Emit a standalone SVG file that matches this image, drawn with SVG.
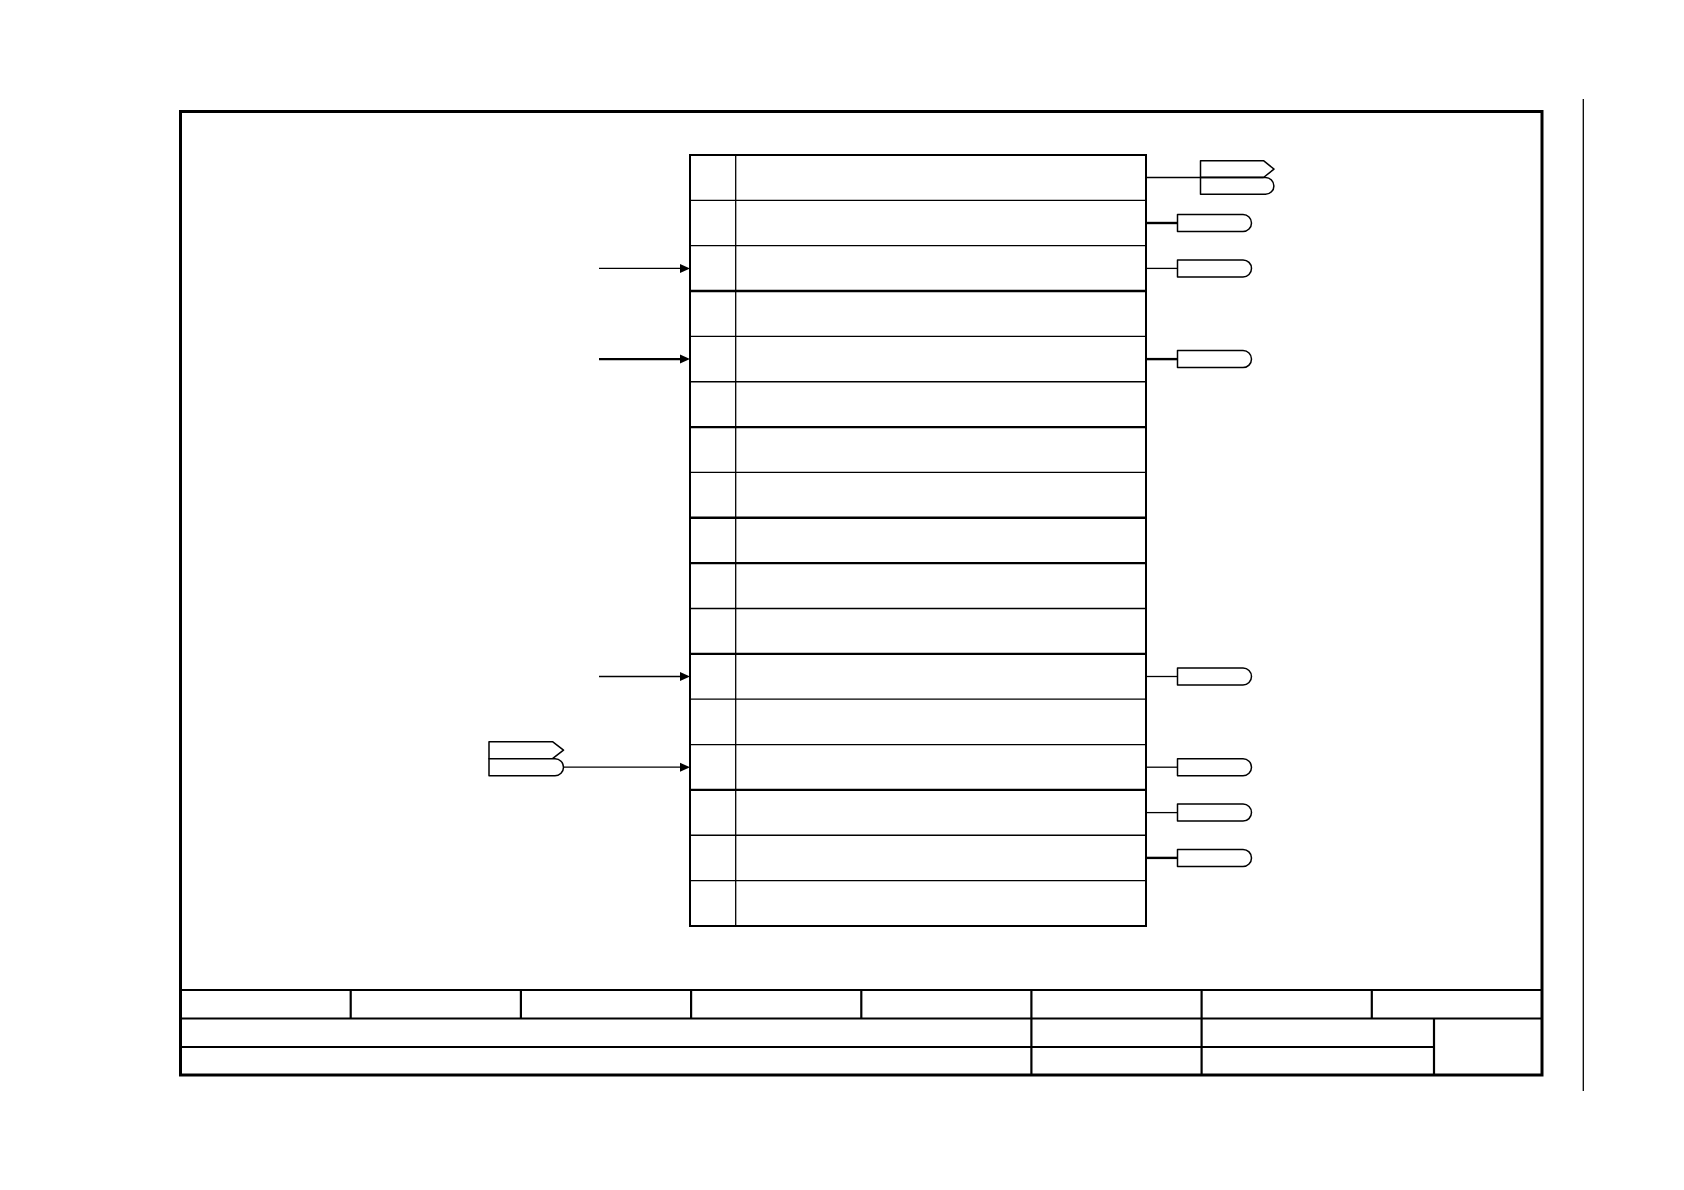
<svg xmlns="http://www.w3.org/2000/svg" width="1684" height="1190" viewBox="0 0 1684 1190">
<style>
.frame{fill:none;stroke:#000;stroke-width:3}
.tb{fill:none;stroke:#000;stroke-width:2.2}
.thin{stroke:#000;stroke-width:1.3;fill:none}
.thick{stroke:#000;stroke-width:2.4;fill:none}
.tag{fill:#fff;stroke:#000;stroke-width:1.5;stroke-linejoin:round}
</style>
<defs>
<marker id="arr" markerUnits="userSpaceOnUse" markerWidth="10" markerHeight="10" viewBox="0 0 10 10" refX="0" refY="5" orient="auto">
<path d="M0,0.5 L10,5 L0,9.5 Z" fill="#000"/>
</marker>
</defs>
<rect width="1684" height="1190" fill="#fff"/>
<g id="sheet">
<rect class="frame" x="180.5" y="111.5" width="1361.5" height="963.5"/>
<line class="thin" x1="1583.3" y1="99" x2="1583.3" y2="1091"/>
</g>
<g id="title-block">
<line class="tb" x1="180.5" y1="990" x2="1542" y2="990"/>
<line class="tb" x1="180.5" y1="1018.5" x2="1542" y2="1018.5"/>
<line class="tb" x1="180.5" y1="1047" x2="1434" y2="1047"/>
<line class="tb" x1="350.7" y1="990" x2="350.7" y2="1018.5"/>
<line class="tb" x1="520.9" y1="990" x2="520.9" y2="1018.5"/>
<line class="tb" x1="691.1" y1="990" x2="691.1" y2="1018.5"/>
<line class="tb" x1="861.3" y1="990" x2="861.3" y2="1018.5"/>
<line class="tb" x1="1031.4" y1="990" x2="1031.4" y2="1075"/>
<line class="tb" x1="1201.6" y1="990" x2="1201.6" y2="1075"/>
<line class="tb" x1="1371.8" y1="990" x2="1371.8" y2="1018.5"/>
<line class="tb" x1="1434" y1="1018.5" x2="1434" y2="1075"/>
</g>
<g id="table">
<rect class="thick" x="690" y="155" width="456" height="771" style="stroke-width:2"/>
<line class="thin" x1="735.7" y1="155" x2="735.7" y2="926"/>
<line class="thin" x1="690" y1="200.35" x2="1146" y2="200.35"/>
<line class="thin" x1="690" y1="245.7" x2="1146" y2="245.7"/>
<line class="thick" x1="690" y1="291.05" x2="1146" y2="291.05"/>
<line class="thin" x1="690" y1="336.4" x2="1146" y2="336.4"/>
<line class="thin" x1="690" y1="381.75" x2="1146" y2="381.75"/>
<line class="thick" x1="690" y1="427.1" x2="1146" y2="427.1"/>
<line class="thin" x1="690" y1="472.45" x2="1146" y2="472.45"/>
<line class="thick" x1="690" y1="517.8" x2="1146" y2="517.8"/>
<line class="thick" x1="690" y1="563.15" x2="1146" y2="563.15"/>
<line class="thin" x1="690" y1="608.5" x2="1146" y2="608.5"/>
<line class="thick" x1="690" y1="653.85" x2="1146" y2="653.85"/>
<line class="thin" x1="690" y1="699.2" x2="1146" y2="699.2"/>
<line class="thin" x1="690" y1="744.55" x2="1146" y2="744.55"/>
<line class="thick" x1="690" y1="789.9" x2="1146" y2="789.9"/>
<line class="thin" x1="690" y1="835.25" x2="1146" y2="835.25"/>
<line class="thin" x1="690" y1="880.6" x2="1146" y2="880.6"/>
</g>
<g id="connectors">
<line class="thin" x1="599" y1="268.4" x2="680" y2="268.4" marker-end="url(#arr)"/>
<line class="thick" x1="599" y1="359.1" x2="680" y2="359.1" marker-end="url(#arr)"/>
<line class="thin" x1="599" y1="676.5" x2="680" y2="676.5" marker-end="url(#arr)"/>
<line class="thin" x1="563.5" y1="767.2" x2="680" y2="767.2" marker-end="url(#arr)"/>
<line class="thin" x1="1146" y1="177.5" x2="1263" y2="177.5"/>
<line class="thick" x1="1146" y1="223" x2="1177.5" y2="223"/>
<line class="thin" x1="1146" y1="268.4" x2="1177.5" y2="268.4"/>
<line class="thick" x1="1146" y1="359.1" x2="1177.5" y2="359.1"/>
<line class="thin" x1="1146" y1="676.5" x2="1177.5" y2="676.5"/>
<line class="thin" x1="1146" y1="767.2" x2="1177.5" y2="767.2"/>
<line class="thin" x1="1146" y1="812.6" x2="1177.5" y2="812.6"/>
<line class="thick" x1="1146" y1="857.9" x2="1177.5" y2="857.9"/>
</g>
<g id="tag-in-14">
<path class="tag" d="M489,741.7 H552.5 L563.5,750.2 L552.5,758.7 H489 Z"/>
<path class="tag" d="M489,758.7 H555 A8.5,8.5 0 0 1 555,775.7 H489 Z"/>
</g>
<g id="tag-out-1">
<path class="tag" d="M1200.5,160.7 H1263.5 L1274,169.1 L1263.5,177.5 H1200.5 Z"/>
<path class="tag" d="M1200.5,177.5 H1265.5 A8.4,8.4 0 0 1 1265.5,194.3 H1200.5 Z"/>
<line class="thin" x1="1200.5" y1="177.5" x2="1263.5" y2="177.5"/>
</g>
<g id="tag-out-2"><path class="tag" d="M1177.5,214.5 H1243 A8.5,8.5 0 0 1 1243,231.5 H1177.5 Z"/></g>
<g id="tag-out-3"><path class="tag" d="M1177.5,259.9 H1243 A8.5,8.5 0 0 1 1243,276.9 H1177.5 Z"/></g>
<g id="tag-out-5"><path class="tag" d="M1177.5,350.6 H1243 A8.5,8.5 0 0 1 1243,367.6 H1177.5 Z"/></g>
<g id="tag-out-12"><path class="tag" d="M1177.5,668 H1243 A8.5,8.5 0 0 1 1243,685 H1177.5 Z"/></g>
<g id="tag-out-14"><path class="tag" d="M1177.5,758.7 H1243 A8.5,8.5 0 0 1 1243,775.7 H1177.5 Z"/></g>
<g id="tag-out-15"><path class="tag" d="M1177.5,804.1 H1243 A8.5,8.5 0 0 1 1243,821.1 H1177.5 Z"/></g>
<g id="tag-out-16"><path class="tag" d="M1177.5,849.4 H1243 A8.5,8.5 0 0 1 1243,866.4 H1177.5 Z"/></g>
</svg>
